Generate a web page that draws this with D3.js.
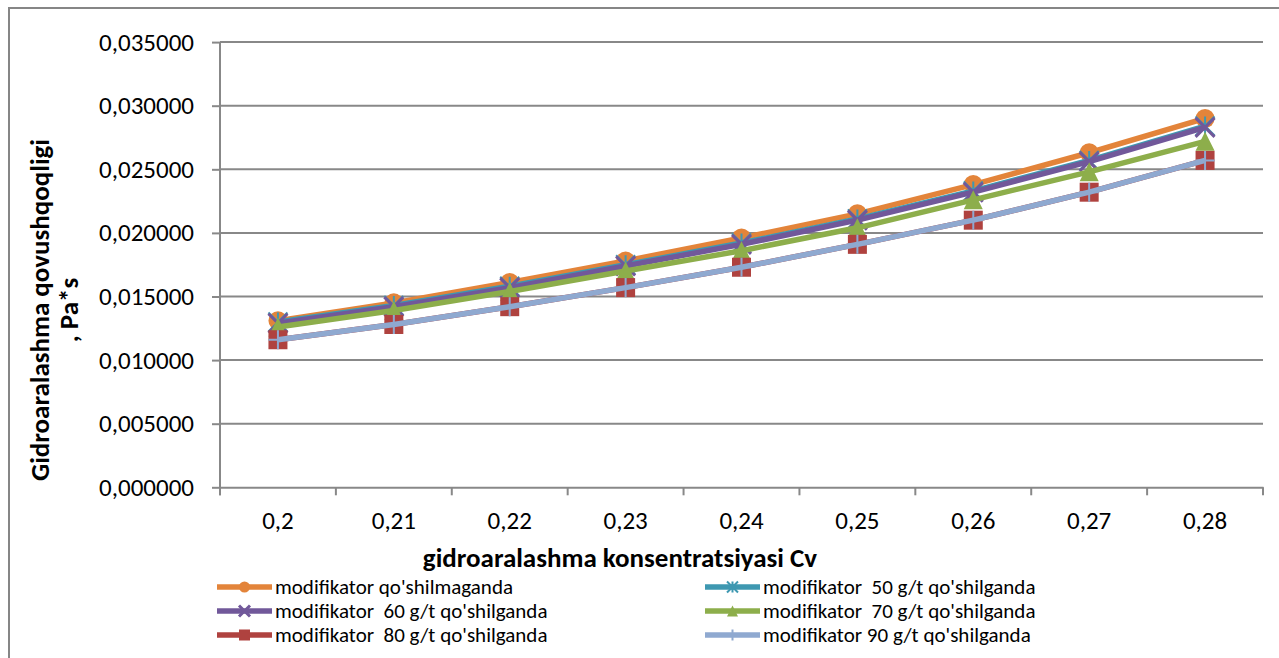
<!DOCTYPE html>
<meta charset="utf-8">
<head>
  <style>
    body { margin: 0; background: #fff; }
    svg { display: block; }
    .tick text { font-family: Carlito, Lato, sans-serif; font-size: 25px; fill: #000; }
    .ttl { font-family: Carlito, Lato, sans-serif; font-size: 27px; font-weight: bold; fill: #000; }
    .leg { font-family: Carlito, Lato, sans-serif; font-size: 21px; fill: #000; white-space: pre; }
  </style>
</head>
<body>
<svg id="chart" width="1279" height="658"></svg>
<script src="https://d3js.org/d3.v7.min.js"></script>
<script>

  // categories (concentration Cv)
  var cats = ["0,2", "0,21", "0,22", "0,23", "0,24", "0,25", "0,26", "0,27", "0,28"];
  var yTicks = [0, 0.005, 0.01, 0.015, 0.02, 0.025, 0.03, 0.035];

  var s0  = [0.0131, 0.0145, 0.0161, 0.0178, 0.0196, 0.0215, 0.0238, 0.0263, 0.0290];
  var s50 = [0.0130, 0.0143, 0.0158, 0.0175, 0.0192, 0.0211, 0.0233, 0.0257, 0.0284];
  var s60 = [0.0129, 0.0142, 0.0157, 0.0174, 0.0191, 0.0210, 0.0232, 0.0256, 0.0283];
  var s70 = [0.0126, 0.0139, 0.0154, 0.0170, 0.0186, 0.0204, 0.0226, 0.0248, 0.0272];
  var s80 = [0.0116, 0.0128, 0.0142, 0.0157, 0.0173, 0.0191, 0.0210, 0.0232, 0.0257];
  var s90 = [0.0116, 0.0128, 0.0142, 0.0157, 0.0173, 0.0191, 0.0210, 0.0232, 0.0257];

  var names = ["modifikator qo'shilmaganda", "modifikator  50 g/t qo'shilganda",
               "modifikator  60 g/t qo'shilganda", "modifikator  70 g/t qo'shilganda",
               "modifikator  80 g/t qo'shilganda", "modifikator 90 g/t qo'shilganda"];
  var colors = ["#E3843A", "#3E98B1", "#71589A", "#8DAE4B", "#AF423F", "#8FA9D0"];
  var markers = ["circle", "star", "x", "triangle", "square", "plus"];

  var series = [s0, s50, s60, s70, s80, s90].map(function (v, i) {
    return {name: names[i], color: colors[i], marker: markers[i], values: v};
  });

  var svg = d3.select("#chart");
  var pLeft = 220, pRight = 1263, pTop = 42.1, pBottom = 487.3;

  var x = d3.scaleBand().domain(cats).range([pLeft, pRight]);
  var y = d3.scaleLinear().domain([0, 0.035]).range([pBottom, pTop]);
  var fmt = function (d) { return d3.format(".6f")(d).replace(".", ","); };

  // chart area border (runs off the page right and bottom)
  svg.append("rect").attr("x", 9).attr("y", 8).attr("width", 1300).attr("height", 700)
     .attr("fill", "none").attr("stroke", "#868686").attr("stroke-width", 2);

  // gridlines
  svg.append("g").selectAll("line").data(yTicks.slice(1)).join("line")
     .attr("x1", pLeft).attr("x2", pRight)
     .attr("y1", function (d) { return y(d); }).attr("y2", function (d) { return y(d); })
     .attr("stroke", "#888").attr("stroke-width", 2);

  // y axis
  var ya = svg.append("g").attr("transform", "translate(" + pLeft + ",0)")
     .call(d3.axisLeft(y).tickValues(yTicks).tickFormat(fmt).tickSize(8).tickPadding(18));
  ya.selectAll("line, path").attr("stroke", "#888").attr("stroke-width", 2);
  ya.select(".domain").attr("d", "M0," + pTop + "V" + (pBottom + 8));

  // x axis
  var xa = svg.append("g").attr("transform", "translate(0," + pBottom + ")")
     .call(d3.axisBottom(x).tickSize(0).tickPadding(24));
  xa.select(".domain").attr("stroke", "#888").attr("stroke-width", 2);
  xa.selectAll(".tick text").attr("dy", "0.71em");
  xa.selectAll(".bnd").data(cats.concat(["end"])).join("line")
     .attr("x1", function (d) { return d === "end" ? pRight : x(d); })
     .attr("x2", function (d) { return d === "end" ? pRight : x(d); })
     .attr("y1", 0).attr("y2", 8).attr("stroke", "#888").attr("stroke-width", 2);

  // titles
  svg.append("text").attr("class", "ttl").attr("x", 620).attr("y", 567)
     .attr("text-anchor", "middle").text("gidroaralashma konsentratsiyasi Cv");
  var yt = svg.append("text").attr("class", "ttl").attr("text-anchor", "middle")
     .attr("transform", "translate(49,310) rotate(-90)");
  yt.append("tspan").attr("x", 0).attr("y", 0).text("Gidroaralashma qovushqoqligi");
  yt.append("tspan").attr("x", 0).attr("y", 29).text(", Pa*s");

  function drawMarker(g, type, color, size) {
    var h = size / 2;
    if (type === "circle") {
      g.append("circle").attr("r", h).attr("fill", color);
    } else if (type === "square") {
      g.append("rect").attr("x", -h).attr("y", -h).attr("width", size).attr("height", size)
       .attr("fill", color);
    } else if (type === "triangle") {
      g.append("path").attr("d", "M0," + (-h) + "L" + h + "," + h + "L" + (-h) + "," + h + "Z")
       .attr("fill", color);
    } else {
      var d = "";
      if (type === "x" || type === "star") d += "M" + (-h) + "," + (-h) + "L" + h + "," + h + "M" + h + "," + (-h) + "L" + (-h) + "," + h;
      if (type === "star" || type === "plus") d += "M0," + (-h) + "V" + h;
      if (type === "plus") d += "M" + (-h) + ",0H" + h;
      g.append("path").attr("d", d).attr("stroke", color).attr("fill", "none")
       .attr("stroke-width", type === "x" ? 3 : 2);
    }
  }

  var line = d3.line()
     .x(function (d, i) { return x(cats[i]) + x.bandwidth() / 2; })
     .y(function (d) { return y(d); });

  series.forEach(function (s) {
    var g = svg.append("g");
    g.append("path").attr("d", line(s.values)).attr("fill", "none")
     .attr("stroke", s.color).attr("stroke-width", 5.5).attr("stroke-linejoin", "round");
    s.values.forEach(function (v, i) {
      var m = g.append("g").attr("transform", "translate(" + (x(cats[i]) + x.bandwidth() / 2) + "," + y(v) + ")");
      drawMarker(m, s.marker, s.color, 19);
    });
  });

  // legend
  var rows = [587, 611, 635];
  series.forEach(function (s, i) {
    var lx = i % 2 === 0 ? 217 : 705;
    var ly = rows[Math.floor(i / 2)];
    var g = svg.append("g").attr("transform", "translate(" + lx + "," + ly + ")");
    g.append("line").attr("x1", 0).attr("x2", 55).attr("stroke", s.color).attr("stroke-width", 5.5);
    var m = g.append("g").attr("transform", "translate(27.5,0)");
    drawMarker(m, s.marker, s.color, 11);
    g.append("text").attr("class", "leg").attr("x", 58).attr("y", 0).attr("dy", "0.35em").text(s.name);
  });

</script>
</body>
